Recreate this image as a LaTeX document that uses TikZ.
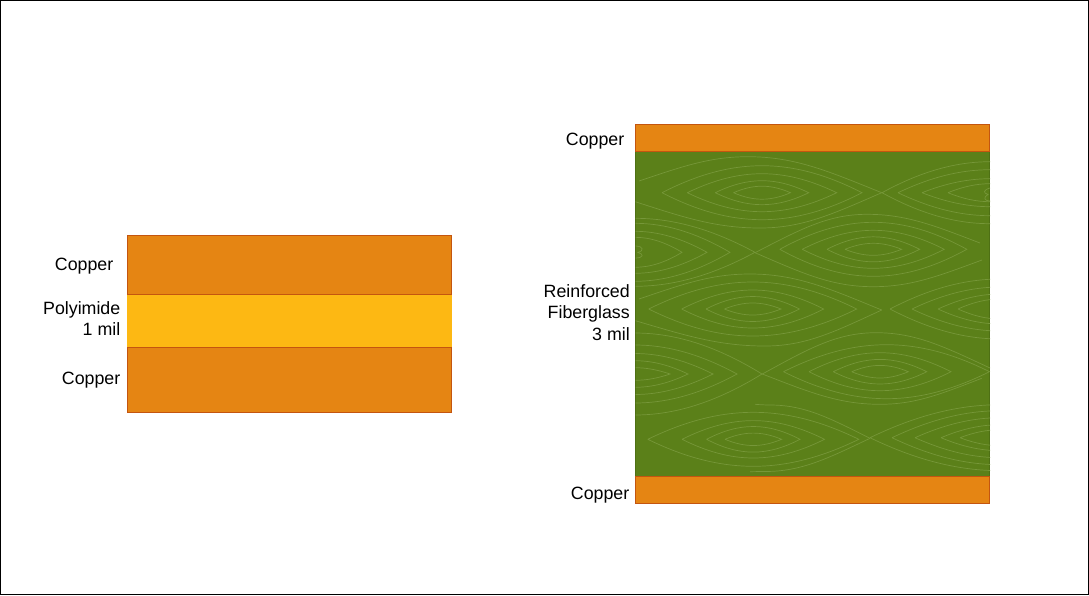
\documentclass[tikz,border=0pt]{standalone}
\usepackage{fontspec}
\setmainfont{Liberation Sans}
\definecolor{copperfill}{HTML}{E58513}
\definecolor{copperline}{HTML}{C4550F}
\definecolor{polyfill}{HTML}{FDB813}
\definecolor{glassfill}{HTML}{5B8019}
\definecolor{glassline}{HTML}{4E7014}
\definecolor{weave}{HTML}{769739}
\tikzset{
  layer/.style={anchor=north west,inner sep=0pt,outer sep=0pt,line width=0.9pt},
  copperbox/.style={layer,fill=copperfill,draw=copperline},
  polybox/.style={layer,fill=polyfill,draw=none},
  glassbox/.style={layer,fill=glassfill,draw=glassline},
  lbl/.style={anchor=east,align=right,inner sep=0pt,font=\fontsize{17.8}{21.5}\selectfont,text=black},
  weaveline/.style={draw=weave,line width=0.7pt}
}
% cx, cy, half width, half height
\newcommand{\lensgroup}[3]{%
  \foreach \hw/\hh in {#3}{%
    \draw[weaveline] ({#1-\hw},#2) .. controls ({#1-0.3*\hw},{#2-1.333*\hh}) and ({#1+0.3*\hw},{#2-1.333*\hh}) .. ({#1+\hw},#2)
      .. controls ({#1+0.3*\hw},{#2+1.333*\hh}) and ({#1-0.3*\hw},{#2+1.333*\hh}) .. ({#1-\hw},#2);
  }}
% start, peak, end
\newcommand{\swoosh}[6]{%
  \draw[weaveline] (#1,#2) .. controls ({#1+0.4*(#3-#1)},{#2+0.6*(#4-#2)}) and ({#3-0.35*(#3-#1)},#4) .. (#3,#4)
    .. controls ({#3+0.35*(#5-#3)},#4) and ({#5-0.4*(#5-#3)},{#6-0.6*(#6-#4)}) .. (#5,#6);}
\begin{document}
\begin{tikzpicture}[x=1pt,y=-1pt]
\useasboundingbox (0,0) rectangle (1089,595);
\fill[white] (0,0) rectangle (1089,595);
\draw[black,line width=1pt] (0.5,0.5) rectangle (1088.5,594.5);
% left stack
\node[polybox,minimum width=324.6pt,minimum height=53pt] (poly) at (127,294) {};
\node[copperbox,minimum width=324.6pt,minimum height=59pt] (cuA) at (127,235) {};
\node[copperbox,minimum width=324.6pt,minimum height=65pt] (cuB) at (127,347) {};
% right stack
\node[glassbox,minimum width=354pt,minimum height=325pt] (glass) at (635.3,151) {};
\begin{scope}
\clip (635.5,151) rectangle (990,476);
\lensgroup{762}{192.7}{28.5/6.5,46.7/12,74.7/19,100/27}
\swoosh{639}{181}{748}{156.7}{881.7}{192.7}
\swoosh{630}{200}{760}{228}{881.7}{192.7}
\lensgroup{990}{192.7}{42/9,68/14,92/23,108/31}
\lensgroup{635}{252.3}{47/15,72/21,95/29,120/34}
\lensgroup{873.3}{249.3}{28.3/6,46.3/12.5,71/19,93.5/27}
\swoosh{755}{252.7}{867}{214.3}{980}{243}
\swoosh{755}{252.7}{873}{286.7}{982}{260}
\lensgroup{752.7}{309}{28.3/6,46.7/12.5,71/19,104/27}
\swoosh{639}{299}{750}{274}{881.7}{310}
\swoosh{633}{320}{765}{346}{881.7}{310}
\lensgroup{1000}{309}{42/10,62/15,88/22,110/30}
\lensgroup{880}{371.7}{28.3/6.3,46.7/12.3,71/19}
\lensgroup{886.5}{371.7}{103/27}
\swoosh{762.3}{374}{876}{332.7}{990}{368}
\swoosh{762.3}{374}{880}{404.3}{981.7}{378.3}
\lensgroup{635}{374}{35/6.3,53/13.3,78/20.5,102/29,127/41}
\lensgroup{753.3}{439.3}{28.3/6.2,46.7/12.8,71.2/18.7,105.5/27}
\swoosh{755}{404.3}{770}{405}{870}{438.3}
\swoosh{750}{471.7}{765}{471.5}{870}{438.3}
\lensgroup{1000}{437.7}{40/8,59/13,85/20,108/27,130/33}
\draw[weaveline] (990,188) .. controls (983,190) and (983,193) .. (988,194.5) .. controls (983,197) and (984,201) .. (990,201);
\draw[weaveline] (635,246) .. controls (644,246) and (644,251) .. (638,252.5) .. controls (644,254) and (644,258) .. (635,258);
\end{scope}
\node[copperbox,minimum width=354pt,minimum height=27pt] (cuC) at (635.3,124) {};
\node[copperbox,minimum width=354pt,minimum height=27pt] (cuD) at (635.3,476.5) {};
% labels
\node[lbl] (t1) at (113.5,266) {Copper};
\node[lbl] (t2) at (120.5,318.5) {Polyimide\\1 mil};
\node[lbl] (t3) at (120.5,380) {Copper};
\node[lbl] (t4) at (624.5,141.5) {Copper};
\node[lbl] (t5) at (630,312.5) {Reinforced\\Fiberglass\\3 mil};
\node[lbl] (t6) at (629.5,495) {Copper};
\end{tikzpicture}
\end{document}
